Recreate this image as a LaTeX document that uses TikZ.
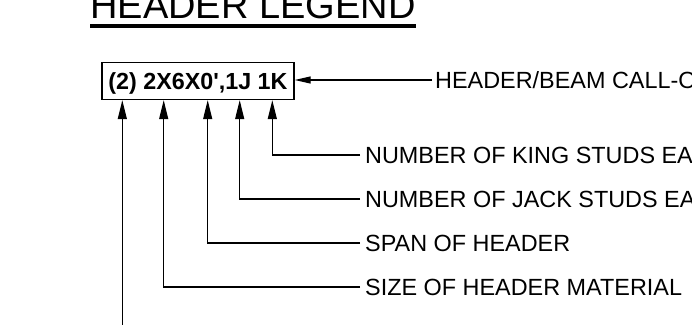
\documentclass[tikz,border=0pt]{standalone}
\usepackage{fontspec}
\setmainfont{Liberation Sans}
% plain straight apostrophe in the call-out sample
\newfontfamily\calloutfont{Liberation Sans}[Ligatures=TeXOff]
\usetikzlibrary{arrows.meta}

\begin{document}
\begin{tikzpicture}[x=1pt,y=-1pt,
  lead/.style={line width=1.2pt},
  uptip/.style={-{Triangle[length=19pt,width=9pt]}},
  lefttip/.style={-{Triangle[length=16pt,width=7pt]}},
  legendtext/.style={anchor=west,inner ysep=0pt,inner xsep=5pt,
    font=\fontsize{23.4}{26}\selectfont,text height=16.75pt,text depth=0pt},
  callbox/.style={draw,line width=1.3pt,inner sep=0pt,minimum width=192pt,
    minimum height=37pt,font=\calloutfont\fontsize{23.3}{26}\selectfont\bfseries,
    text height=16.7pt,text depth=0pt}]
  \useasboundingbox (0,0) rectangle (692,324);
  \clip (0,0) rectangle (692,324);

  % title with its heavy underline
  \node[anchor=base,inner sep=0pt,font=\fontsize{38}{42}\selectfont]
    (title) at (253,18.3) {HEADER LEGEND};
  \fill (90,24.3) rectangle (416,28.3);

  % sample header call-out
  \node[callbox] (box) at (198,81) {(2) 2X6X0',1J 1K};

  % explanation labels
  \node[legendtext,inner xsep=3pt] (callout) at (432,80) {HEADER/BEAM CALL-OUT};
  \node[legendtext] (king) at (360,155) {NUMBER OF KING STUDS EACH END};
  \node[legendtext] (jack) at (360,199) {NUMBER OF JACK STUDS EACH END};
  \node[legendtext] (span) at (360,243) {SPAN OF HEADER};
  \node[legendtext] (size) at (360,287) {SIZE OF HEADER MATERIAL};

  % columns of the call-out that each label points at
  \coordinate (qtyx)  at (122.3,0);
  \coordinate (sizex) at (163.7,0);
  \coordinate (spanx) at (207.7,0);
  \coordinate (jackx) at (239.7,0);
  \coordinate (kingx) at (272.3,0);
  \coordinate (qtyend) at (122.3,340);

  % leaders
  \draw[lead,lefttip] (callout.west) -- (box.east |- callout.west);
  \draw[lead,uptip] (king.west) -| (kingx |- box.south);
  \draw[lead,uptip] (jack.west) -| (jackx |- box.south);
  \draw[lead,uptip] (span.west) -| (spanx |- box.south);
  \draw[lead,uptip] (size.west) -| (sizex |- box.south);
  \draw[lead,uptip] (qtyend) -- (qtyx |- box.south);
\end{tikzpicture}
\end{document}
